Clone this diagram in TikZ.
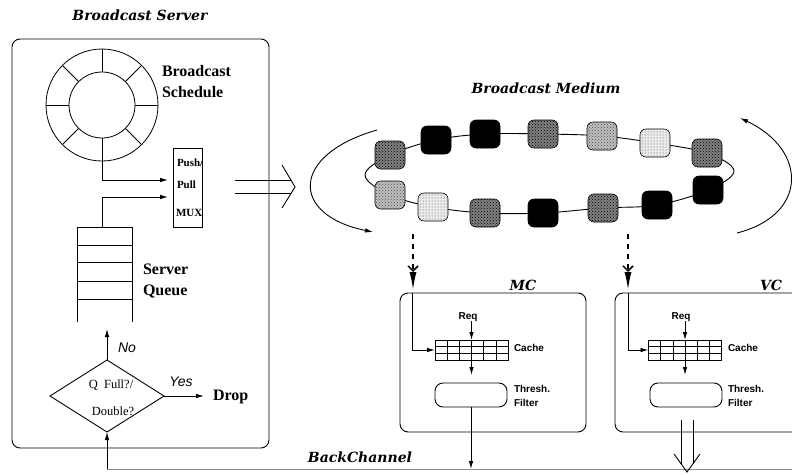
\documentclass[tikz,border=0pt]{standalone}
\usepackage{fontspec}
\setmainfont{Liberation Serif}
\newfontfamily\titlefont{DejaVu Serif}
\newfontfamily\sansfont{Liberation Sans}
\usetikzlibrary{arrows.meta,shapes.geometric,calc,patterns}
\begin{document}
\begin{tikzpicture}[x=1pt,y=-1pt,
  every node/.style={inner sep=0pt, outer sep=0pt},
  ln/.style={line width=0.9pt},
  arr/.style={ln,-{Latex[length=8pt,width=4.5pt]}},
  ttl/.style={font=\titlefont\bfseries\itshape\fontsize{14}{16}\selectfont},
  big/.style={font=\bfseries\fontsize{16}{21}\selectfont, align=left, anchor=west},
  mux/.style={font=\bfseries\fontsize{11}{13}\selectfont, anchor=west},
  dq/.style={font=\fontsize{12.5}{14}\selectfont},
  sml/.style={font=\sansfont\bfseries\fontsize{10}{12}\selectfont, anchor=west, align=left},
  yn/.style={font=\sansfont\itshape\fontsize{14}{16}\selectfont},
  pkt/.style={draw, line width=0.6pt, rounded corners=6pt, minimum width=30pt, minimum height=28pt},
  dk/.style={pkt, fill=black!50, postaction={pattern=crosshatch dots, pattern color=black}},
  md/.style={pkt, fill=black!25, postaction={pattern=crosshatch dots, pattern color=black!70}},
  lt/.style={pkt, fill=black!8, postaction={pattern=dots, pattern color=black!70}},
  bk/.style={pkt, fill=black},
  panel/.style={draw, ln, rounded corners=8pt},
  cachebox/.style={draw, line width=0.7pt, minimum width=73pt, minimum height=20pt},
  filt/.style={draw, ln, rounded corners=8pt, minimum width=72pt, minimum height=24pt},
  dsh/.style={line width=1.6pt, dash pattern=on 5pt off 5pt,
    -{Straight Barb[length=5pt,width=10pt,line width=1.5pt] Latex[length=18pt,width=7pt]}},
]
\useasboundingbox (0,0) rectangle (792,474);
\fill[white] (0,0) rectangle (792,474);
\clip (0,0) rectangle (792,474);

% ---------------- Broadcast server ----------------
\node[ttl] (tserver) at (140,15) {Broadcast Server};
\node[panel, minimum width=257pt, minimum height=409pt] (server) at (140.5,243.5) {};

\node[circle, draw, line width=0.8pt, minimum size=112pt] (wout) at (102,105) {};
\node[circle, draw, line width=0.8pt, minimum size=66pt] (win) at (102,105) {};
\foreach \a in {0,45,...,315} \draw[line width=0.8pt] (win.\a) -- (wout.\a);
\node[big] (tsched) at (162,82) {Broadcast\\Schedule};

\node[draw, line width=0.8pt, minimum width=29pt, minimum height=79pt] (mux) at (187.5,187.5) {};
\node[mux] (muxa) at (177,163) {Push/};
\node[mux] (muxb) at (177,185) {Pull};
\node[mux] (muxc) at (176,213) {MUX};
\coordinate (m1) at (168,180);
\coordinate (m2) at (168,197);
\coordinate (qtop) at (102,227);
\draw[arr] (wout.south) |- (m1);
\draw[arr] (qtop) |- (m2);

% queue
\draw[line width=0.8pt] (77,322) -- (77,227) -- (132,227) -- (132,322);
\foreach \y in {245,262,281,299} \draw[line width=0.8pt] (77,\y) -- (132,\y);
\node[big] (tqueue) at (143,281) {Server\\Queue};

% decision
\node[diamond, draw, ln, minimum width=114pt, minimum height=72pt] (dia) at (107,396) {};
\node[dq] (dq1) at (111,385) {Q\ \ Full?/};
\node[dq] (dq2) at (113,411) {Double?};
\coordinate (noend) at (107,329);
\draw[arr] (dia.north) -- (noend);
\node[yn] (no) at (127,348) {No};
\coordinate (yesend) at (204,396);
\draw[arr] (dia.east) -- (yesend);
\node[yn] (yes) at (181,382) {Yes};
\node[font=\bfseries\fontsize{16}{18}\selectfont, anchor=west] (drop) at (213,397) {Drop};

% back channel
\coordinate (bcL) at (107,469);
\coordinate (bcR) at (792,469);
\draw[line width=0.8pt, black!45] (bcL) -- (bcR);
\draw[arr] (bcL) -- (dia.south);
\node[ttl] (tback) at (360,457) {BackChannel};

% server -> medium double arrow
\coordinate (da1) at (235,180);
\coordinate (da2) at (235,193);
\coordinate (db1) at (291,180);
\coordinate (db2) at (291,193);
\coordinate (dtip) at (295,187);
\draw[ln] (da1) -- (db1);
\draw[ln] (da2) -- (db2);
\draw[ln] (282,165) -- (dtip) -- (282,208);

% ---------------- Broadcast medium ----------------
\node[ttl] (tmed) at (546,88) {Broadcast Medium};
\draw[ln] plot[smooth cycle, tension=0.6] coordinates {(390,155) (436,140) (485,134) (543,134) (602,136) (655,143) (707,153) (734,171) (708,190) (657,205) (603,208) (543,213) (485,213) (433,207) (390,195) (365,175)};
\node[dk] (p1) at (390,155) {};
\node[bk] (p2) at (436,140) {};
\node[bk] (p3) at (485,134) {};
\node[dk] (p4) at (543,134) {};
\node[md] (p5) at (602,136) {};
\node[lt] (p6) at (655,143) {};
\node[dk] (p7) at (707,153) {};
\node[md] (p8) at (390,195) {};
\node[lt] (p9) at (433,207) {};
\node[dk] (p10) at (485,213) {};
\node[bk] (p11) at (543,213) {};
\node[dk] (p12) at (603,208) {};
\node[bk] (p13) at (657,205) {};
\node[bk] (p14) at (708,190) {};

\coordinate (la1) at (377,130);
\coordinate (la2) at (373,232);
\draw[arr] (la1) .. controls (290,155) and (290,215) .. (la2);
\coordinate (ra1) at (737,233);
\coordinate (ra2) at (740,118);
\draw[arr] (ra1) .. controls (808,215) and (808,150) .. (ra2);

% dashed downlinks
\coordinate (d1s) at (413,234);
\coordinate (d1e) at (413,290);
\coordinate (d2s) at (628,234);
\coordinate (d2e) at (628,290);
\draw[dsh] (d1s) -- (d1e);
\draw[dsh] (d2s) -- (d2e);

% ---------------- MC ----------------
\node[panel, minimum width=186pt, minimum height=139pt] (mc) at (493,362.5) {};
\node[ttl] (tmc) at (523,285) {MC};
\coordinate (mcin) at (412,293);
\node[cachebox] (cacheM) at (471.5,350) {};
\foreach \i in {1,...,5} \draw[line width=0.5pt] ($(cacheM.north west)!\i/6!(cacheM.north east)$) -- ($(cacheM.south west)!\i/6!(cacheM.south east)$);
\foreach \j in {1,2} \draw[line width=0.5pt] ($(cacheM.north west)!\j/3!(cacheM.south west)$) -- ($(cacheM.north east)!\j/3!(cacheM.south east)$);
\node[font=\sansfont\bfseries\fontsize{10}{12}\selectfont] (reqM) at (468,317) {Req};
\draw[arr] (cacheM.north |- reqM.south) -- (cacheM.north);
\draw[arr] (cacheM.south) -- ++(0,15);
\draw[arr] (mcin) |- (cacheM.west);
\node[sml] (lcM) at (514,348) {Cache};
\node[filt] (filtM) at (471,395) {};
\node[sml] (lfM) at (514,396) {Thresh.\\[2pt]Filter};
\draw[arr] (filtM.south) -- (filtM.south |- bcR);

% ---------------- VC ----------------
\node[panel, minimum width=186pt, minimum height=139pt] (vc) at (708,362.5) {};
\node[ttl] (tvc) at (771,285) {VC};
\coordinate (vcin) at (628,293);
\node[cachebox] (cacheV) at (685,350) {};
\foreach \i in {1,...,5} \draw[line width=0.5pt] ($(cacheV.north west)!\i/6!(cacheV.north east)$) -- ($(cacheV.south west)!\i/6!(cacheV.south east)$);
\foreach \j in {1,2} \draw[line width=0.5pt] ($(cacheV.north west)!\j/3!(cacheV.south west)$) -- ($(cacheV.north east)!\j/3!(cacheV.south east)$);
\node[font=\sansfont\bfseries\fontsize{10}{12}\selectfont] (reqV) at (681,317) {Req};
\draw[arr] (cacheV.north |- reqV.south) -- (cacheV.north);
\draw[arr] (cacheV.south) -- ++(0,15);
\draw[arr] (vcin) |- (cacheV.west);
\node[sml] (lcV) at (728,348) {Cache};
\node[filt] (filtV) at (686,395) {};
\node[sml] (lfV) at (728,396) {Thresh.\\[2pt]Filter};
% double output arrow
\coordinate (va1) at (681,420);
\coordinate (va2) at (693,420);
\coordinate (vb1) at (681,464);
\coordinate (vb2) at (693,464);
\coordinate (vtip) at (687,472);
\draw[ln] (va1) -- (vb1);
\draw[ln] (va2) -- (vb2);
\draw[ln] (674,454) -- (vtip) -- (700,454);
\end{tikzpicture}
\end{document}
